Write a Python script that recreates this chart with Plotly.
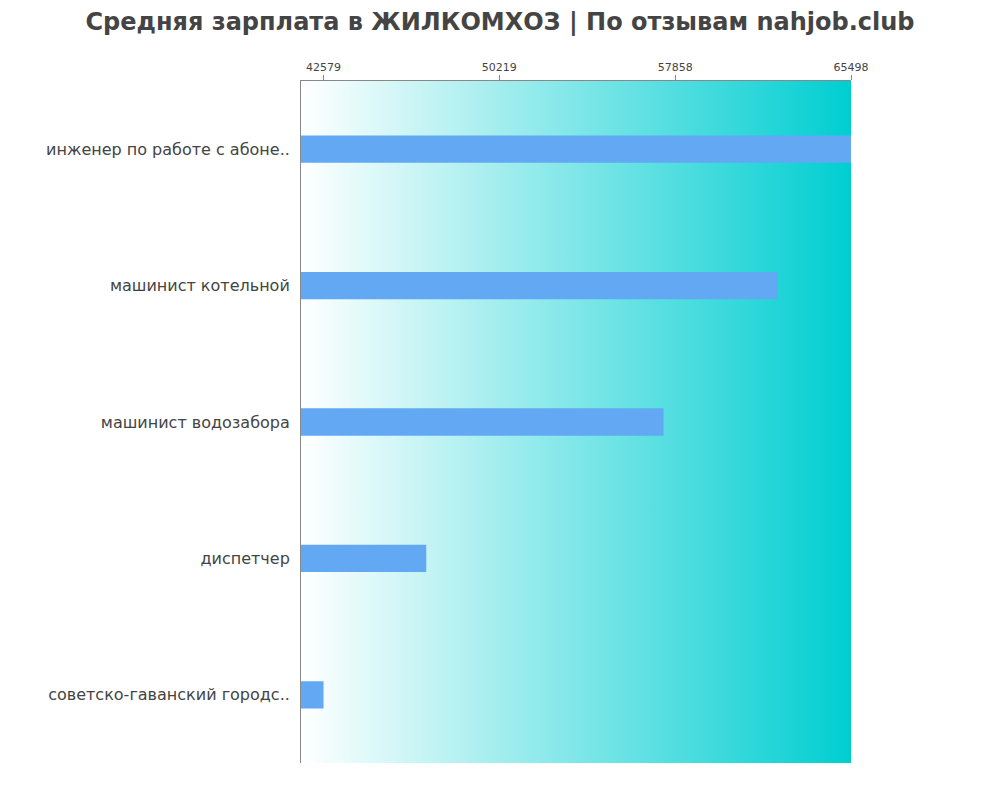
import numpy as np
import plotly.graph_objects as go

# job titles (top to bottom) and average salary, rub
jobs = ['инженер по работе с абоне..', 'машинист котельной', 'машинист водозабора',
        'диспетчер', 'советско-гаванский городс..']
salary = [65498, 62310, 57355, 47042, 42579]

tick_vals = [int(round(v)) for v in np.linspace(min(salary), max(salary), 4)]
tick_text = [str(v) for v in tick_vals]

fig = go.Figure()

# gradient background on a hidden base subplot
fig.add_trace(go.Scatter(x=[0, 1, 1, 0, 0], y=[0, 0, 1, 1, 0], fill='toself', mode='none',
                         fillgradient=dict(type='horizontal',
                                           colorscale=[[0, '#ffffff'], [1, '#00ced1']]),
                         hoverinfo='skip', showlegend=False, xaxis='x', yaxis='y'))

fig.add_trace(go.Bar(x=salary, y=jobs, orientation='h', width=0.2,
                     marker=dict(color='#62a8f3', line=dict(width=0)),
                     showlegend=False, xaxis='x2', yaxis='y2'))

fig.update_layout(
    width=1000, height=800,
    title=dict(text='<b>Средняя зарплата в ЖИЛКОМХОЗ | По отзывам nahjob.club</b>',
               x=0.492, xanchor='center', y=0.994, yanchor='top', pad=dict(t=0),
               font=dict(family='DejaVu Sans', size=24, color='#444444')),
    margin=dict(l=293, r=157, t=73, b=45),
    paper_bgcolor='white', plot_bgcolor='white',
    font=dict(family='DejaVu Sans', color='#444444'),
    xaxis=dict(range=[0, 1], visible=False, fixedrange=True),
    yaxis=dict(range=[0, 1], visible=False, fixedrange=True),
    xaxis2=dict(overlaying='x', side='top', range=[41600, 65498],
                tickvals=tick_vals, ticktext=tick_text, tickfont=dict(size=11, color='#444444'),
                ticks='outside', ticklen=5, tickcolor='#888888',
                showline=True, linecolor='#888888', linewidth=1,
                showgrid=False, zeroline=False),
    yaxis2=dict(overlaying='y', autorange='reversed', tickfont=dict(size=16, color='#444444'),
                ticks='', ticklabelstandoff=7,
                showline=True, linecolor='#888888', linewidth=1,
                showgrid=False, zeroline=False),
    bargap=0.8,
)

fig.write_html("out.html")
